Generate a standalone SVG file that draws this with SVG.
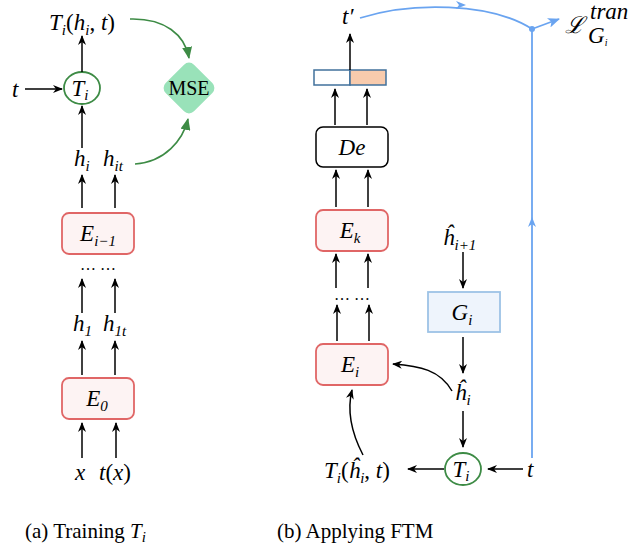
<svg xmlns="http://www.w3.org/2000/svg" width="632" height="548" viewBox="0 0 632 548">
<style>
.m{font-family:"Liberation Serif","DejaVu Serif",serif;font-style:italic;font-size:23px;fill:#000}
.s{font-size:15px}
.n{font-style:normal}
.cap{font-family:"Liberation Serif","DejaVu Serif",serif;font-size:21px;fill:#000}
.ar{stroke:#000;stroke-width:1.5;fill:none;marker-end:url(#ah)}
.gr{stroke:#3d8b45;stroke-width:1.6;fill:none;marker-end:url(#ag)}
.bl{stroke:#6aa4f0;stroke-width:1.8;fill:none}
.enc{fill:#fdf3f3;stroke:#e06666;stroke-width:1.8}
</style>
<defs>
<marker id="ah" markerWidth="10" markerHeight="8" refX="9" refY="4" orient="auto" markerUnits="userSpaceOnUse"><path d="M0,0 L10,4 L0,8 L3,4 z" fill="#000"/></marker>
<marker id="ag" markerWidth="12" markerHeight="10" refX="11" refY="5" orient="auto" markerUnits="userSpaceOnUse"><path d="M0,0 L12,5 L0,10 z" fill="#3d8b45"/></marker>
<marker id="ab" markerWidth="12" markerHeight="10" refX="11" refY="5" orient="auto" markerUnits="userSpaceOnUse"><path d="M0,0 L12,5 L0,10 L3,5 z" fill="#6aa4f0"/></marker>
</defs>

<!-- Panel (a) -->
<g id="a-out"><text class="m" x="82" y="30" text-anchor="middle">T<tspan class="s" dy="5">i</tspan><tspan class="n" dy="-5">(</tspan>h<tspan class="s" dy="5">i</tspan><tspan class="n" dy="-5">, </tspan>t<tspan class="n">)</tspan></text></g>
<g id="a-t"><text class="m" x="12" y="97">t</text></g>
<g id="a-Ti"><ellipse cx="82" cy="88" rx="18" ry="16" fill="#fff" stroke="#3d8b45" stroke-width="1.8"/><text class="m" x="80" y="96" text-anchor="middle">T<tspan class="s" dy="4">i</tspan></text></g>
<g id="a-mse"><rect x="169" y="68" width="40" height="40" rx="7" fill="#99e2b9" transform="rotate(45 189 88)"/><text x="189" y="95" text-anchor="middle" font-family="Liberation Serif, serif" font-size="20">MSE</text></g>
<g id="a-h"><text class="m" x="74" y="166">h<tspan class="s" dy="5">i</tspan></text><text class="m" x="103" y="166">h<tspan class="s" dy="5">it</tspan></text></g>
<g id="a-E1"><rect class="enc" x="62" y="213" width="72" height="41" rx="7"/><text class="m" x="98" y="241" text-anchor="middle">E<tspan class="s" dy="5">i−1</tspan></text></g>
<g id="a-dots"><text x="98" y="270" text-anchor="middle" font-family="Liberation Serif, serif" font-size="16">… …</text></g>
<g id="a-h1"><text class="m" x="73" y="331">h<tspan class="s" dy="5">1</tspan></text><text class="m" x="103" y="331">h<tspan class="s" dy="5">1t</tspan></text></g>
<g id="a-E0"><rect class="enc" x="62" y="378" width="72" height="41" rx="7"/><text class="m" x="97" y="406" text-anchor="middle">E<tspan class="s" dy="5">0</tspan></text></g>
<g id="a-x"><text class="m" x="75" y="480">x</text><text class="m" x="99" y="480">t<tspan class="n">(</tspan>x<tspan class="n">)</tspan></text></g>
<g id="cap-a"><text class="cap" x="25" y="538">(a) Training <tspan font-style="italic">T</tspan><tspan font-style="italic" font-size="15" dy="4">i</tspan></text></g>

<!-- Panel (b) -->
<g id="b-tp"><text class="m" x="342" y="24">t′</text></g>
<g id="b-bar"><rect x="314" y="70" width="36" height="15" fill="#fff" stroke="#41719c" stroke-width="1.5"/><rect x="350" y="70" width="36" height="15" fill="#f8cbad" stroke="#41719c" stroke-width="1.5"/></g>
<g id="b-De"><rect x="316" y="127" width="72" height="40" rx="7" fill="#fff" stroke="#000" stroke-width="1.5"/><text class="m" x="352" y="155" text-anchor="middle">De</text></g>
<g id="b-Ek"><rect class="enc" x="316" y="210" width="72" height="41" rx="7"/><text class="m" x="350" y="238" text-anchor="middle">E<tspan class="s" dy="5">k</tspan></text></g>
<g id="b-dots"><text x="352" y="300" text-anchor="middle" font-family="Liberation Serif, serif" font-size="16">… …</text></g>
<g id="b-Ei"><rect class="enc" x="316" y="344" width="72" height="41" rx="7"/><text class="m" x="350" y="372" text-anchor="middle">E<tspan class="s" dy="5">i</tspan></text></g>
<g id="b-hi1"><text class="m" x="443" y="245">ĥ<tspan class="s" dy="5">i+1</tspan></text></g>
<g id="b-Gi"><rect x="428" y="292" width="72" height="40" fill="#eef4fc" stroke="#9dc3e6" stroke-width="1.8"/><text class="m" x="462" y="320" text-anchor="middle">G<tspan class="s" dy="5">i</tspan></text></g>
<g id="b-hi"><text class="m" x="455" y="400">ĥ<tspan class="s" dy="5">i</tspan></text></g>
<g id="b-Ti"><ellipse cx="463" cy="469" rx="18" ry="16" fill="#fff" stroke="#3d8b45" stroke-width="1.8"/><text class="m" x="461" y="477" text-anchor="middle">T<tspan class="s" dy="4">i</tspan></text></g>
<g id="b-t"><text class="m" x="527" y="477">t</text></g>
<g id="b-out"><text class="m" x="324" y="478">T<tspan class="s" dy="5">i</tspan><tspan class="n" dy="-5">(</tspan>ĥ<tspan class="s" dy="5">i</tspan><tspan class="n" dy="-5">, </tspan>t<tspan class="n">)</tspan></text></g>
<g id="b-L"><text class="m" x="565" y="33">ℒ</text><text class="m" x="590" y="19" font-size="15">tran</text><text class="m" x="588" y="43" font-size="13">G<tspan font-size="10" dy="3">i</tspan></text></g>
<g id="cap-b"><text class="cap" x="277" y="538">(b) Applying  FTM</text></g>

<g id="connectors">
<!-- panel a -->
<path class="ar" d="M82,72 V36"/>
<path class="ar" d="M25,89 H62"/>
<path class="ar" d="M82,148 V106"/>
<path class="ar" d="M82,208 V175"/>
<path class="ar" d="M115,208 V175"/>
<path class="ar" d="M82,313 V279"/>
<path class="ar" d="M115,313 V279"/>
<path class="ar" d="M82,375 V341"/>
<path class="ar" d="M115,375 V341"/>
<path class="ar" d="M82,458 V423"/>
<path class="ar" d="M116,458 V423"/>
<path class="gr" d="M130,19 C165,18 185,35 189,58"/>
<path class="gr" d="M135,164 C165,162 183,140 188,119"/>
<!-- panel b -->
<path class="ar" d="M350,70 V34"/>
<path class="ar" d="M335,125 V89"/>
<path class="ar" d="M367,125 V89"/>
<path class="ar" d="M336,207 V170"/>
<path class="ar" d="M368,207 V170"/>
<path class="ar" d="M336,288 V254"/>
<path class="ar" d="M368,288 V254"/>
<path class="ar" d="M337,341 V305"/>
<path class="ar" d="M369,341 V305"/>
<path class="ar" d="M463,252 V288"/>
<path class="ar" d="M463,337 V373"/>
<path class="ar" d="M463,411 V447"/>
<path class="ar" d="M523,469 H488"/>
<path class="ar" d="M444,469 H408"/>
<path class="ar" d="M452,391 C440,370 420,366 393,364"/>
<path class="ar" d="M363,455 C350,430 347,410 352,390"/>
<!-- blue -->
<path class="bl" d="M360,18 C410,2 490,2 532,29"/>
<path class="bl" d="M532,458 V29"/>
<path d="M456,1 L466,5 L456,9 L459,5 z" fill="#6aa4f0"/>
<path d="M528,227 L532,217 L536,227 L532,224 z" fill="#6aa4f0"/>
<circle cx="532" cy="29" r="3" fill="#6aa4f0"/>
<path class="bl" d="M532,29 L559,19" marker-end="url(#ab)"/>
</g>
</svg>
